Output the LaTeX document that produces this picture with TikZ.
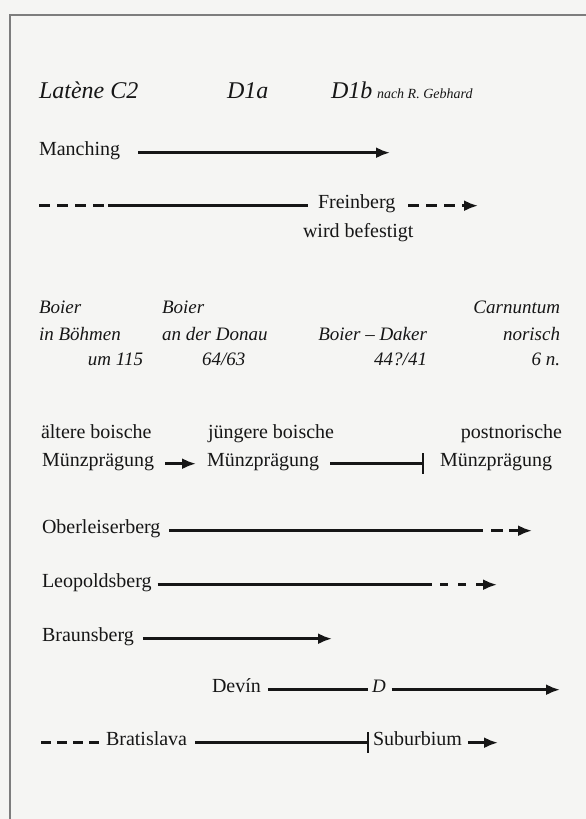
\documentclass[tikz,border=0pt]{standalone}
\usepackage{fontspec}
\setmainfont{Liberation Serif}
\usetikzlibrary{arrows.meta}
\definecolor{paper}{RGB}{245,245,243}
\definecolor{ink}{RGB}{22,22,22}
\definecolor{framecol}{RGB}{125,125,125}
\tikzset{
  txt/.style={inner sep=0pt, outer sep=0pt, text=ink, font=\fontsize{20}{22}\selectfont, anchor=base west},
  txtr/.style={txt, anchor=base east},
  ital/.style={font=\fontsize{19}{21}\selectfont\itshape},
  head/.style={font=\fontsize{24}{26}\selectfont\itshape},
  conn/.style={draw=ink, line width=2.6pt},
  arr/.style={conn, -{Latex[length=14pt,width=11pt]}},
  barend/.style={conn, -{Bar[width=21pt,line width=2.2pt]}},
  dsh/.style={dash pattern=on 11pt off 7pt}
}
\begin{document}
\begin{tikzpicture}[x=1pt,y=-1pt]
\useasboundingbox (0,0) rectangle (586,819);
\fill[paper] (0,0) rectangle (586,819);
\draw[framecol, line width=2pt] (10,819) -- (10,14.5) -- (586,14.5);

% heading row
\node[txt, head] (lat) at (39,98) {Latène C2};
\node[txt, head] (d1a) at (227,98) {D1a};
\node[txt, head] (d1b) at (331,98) {D1b};
\node[txt, font=\fontsize{14}{15}\selectfont\itshape] (geb) at (377,98) {nach R. Gebhard};

% Manching
\node[txt] (manch) at (39,155) {Manching};
\coordinate (manchEnd) at (390,0 |- manch.mid);
\draw[arr, shorten <=18pt] (manch.mid east) -- (manchEnd);

% Freinberg
\node[txt] (frein) at (318,208) {Freinberg};
\node[txt] (befest) at (303,237) {wird befestigt};
\coordinate (fA) at (39,0 |- frein.mid);
\coordinate (fB) at (104,0 |- frein.mid);
\coordinate (fC) at (108,0 |- frein.mid);
\coordinate (fEnd) at (478,0 |- frein.mid);
\draw[conn, dsh] (fA) -- (fB);
\draw[conn, shorten >=10pt] (fC) -- (frein.mid west);
\draw[arr, dsh, shorten <=13pt] (frein.mid east) -- (fEnd);

% Boier block
\node[txt, ital] (b1a) at (39,313) {Boier};
\node[txt, ital] (b1b) at (39,340) {in Böhmen};
\node[txtr, ital] (b1c) at (143,365) {um 115};
\node[txt, ital] (b2a) at (162,313) {Boier};
\node[txt, ital] (b2b) at (162,340) {an der Donau};
\node[txt, ital] (b2c) at (202,365) {64/63};
\node[txtr, ital] (b3b) at (427,340) {Boier – Daker};
\node[txtr, ital] (b3c) at (427,365) {44?/41};
\node[txtr, ital] (b4a) at (560,313) {Carnuntum};
\node[txtr, ital] (b4b) at (560,340) {norisch};
\node[txtr, ital] (b4c) at (560,365) {6 n.};

% Muenzpraegung
\node[txt] (m1a) at (41,438) {ältere boische};
\node[txt] (m2a) at (208,438) {jüngere boische};
\node[txtr] (m3a) at (562,438) {postnorische};
\node[txt] (m1) at (42,466) {Münzprägung};
\node[txt] (m2) at (207,466) {Münzprägung};
\node[txt] (m3) at (440,466) {Münzprägung};
\draw[arr, shorten <=11pt, shorten >=11pt] (m1.mid east) -- (m2.mid west);
\draw[barend, shorten <=11pt, shorten >=16pt] (m2.mid east) -- (m3.mid west);

% Oberleiserberg
\node[txt] (ob) at (42,533) {Oberleiserberg};
\coordinate (obA) at (483,0 |- ob.mid);
\coordinate (obB) at (491,0 |- ob.mid);
\coordinate (obEnd) at (532,0 |- ob.mid);
\draw[conn, shorten <=9pt] (ob.mid east) -- (obA);
\draw[arr, dash pattern=on 12pt off 6pt] (obB) -- (obEnd);

% Leopoldsberg
\node[txt] (leo) at (42,587) {Leopoldsberg};
\coordinate (leA) at (432,0 |- leo.mid);
\coordinate (leB) at (440,0 |- leo.mid);
\coordinate (leEnd) at (497,0 |- leo.mid);
\draw[conn, shorten <=6pt] (leo.mid east) -- (leA);
\draw[arr, dash pattern=on 8pt off 10pt] (leB) -- (leEnd);

% Braunsberg
\node[txt] (br) at (42,641) {Braunsberg};
\coordinate (brEnd) at (332,0 |- br.mid);
\draw[arr, shorten <=9pt] (br.mid east) -- (brEnd);

% Devin
\node[txt] (dev) at (212,692) {Devín};
\node[txt, ital] (dd) at (372,692) {D};
\coordinate (devEnd) at (560,0 |- dev.mid);
\draw[conn, shorten <=7pt, shorten >=4pt] (dev.mid east) -- (dd.mid west);
\draw[arr, shorten <=6pt] (dd.mid east) -- (devEnd);

% Bratislava
\node[txt] (bra) at (106,745) {Bratislava};
\node[txt] (sub) at (373,745) {Suburbium};
\coordinate (braA) at (41,0 |- bra.mid);
\coordinate (braB) at (100,0 |- bra.mid);
\coordinate (subEnd) at (498,0 |- sub.mid);
\draw[conn, dash pattern=on 10pt off 6pt] (braA) -- (braB);
\draw[barend, shorten <=8pt, shorten >=4pt] (bra.mid east) -- (sub.mid west);
\draw[arr, shorten <=6pt] (sub.mid east) -- (subEnd);
\end{tikzpicture}
\end{document}
